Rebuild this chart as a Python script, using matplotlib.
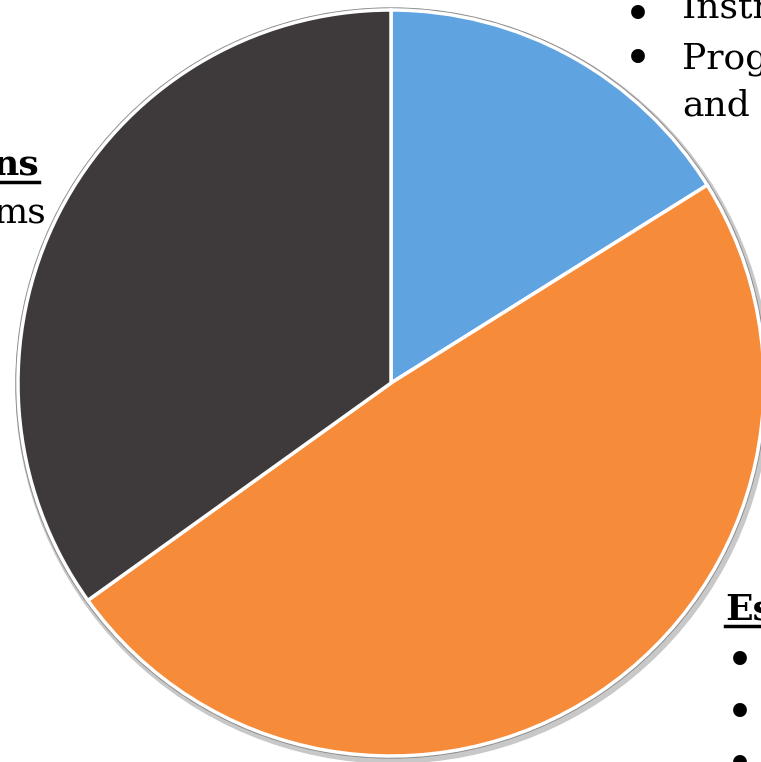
import matplotlib
matplotlib.use("Agg")
import matplotlib.pyplot as plt
from matplotlib.patches import Circle

W, H = 761, 762

shares = [16.1, 49.0, 34.9]
colors = ["#5FA3E0", "#F68B3A", "#3E3A3B"]

top_items = ["Instr", "Prog", "and"]
left_items = ["ns", "ms"]
right_head = "Es"

plt.rcParams["font.family"] = ["DejaVu Serif"]

fig = plt.figure(figsize=(W / 100, H / 100), dpi=100)
ax = fig.add_axes([0, 0, 1, 1])

cx, cy, r = 391, H - 383, 373

# grey rim / soft shadow behind the pie
ax.add_patch(Circle((cx + 2, cy - 3), r + 4, color="#C8C8C8", zorder=0))
ax.add_patch(Circle((cx, cy), r + 2, color="#8E8E8E", zorder=1))

wedges, _ = ax.pie(shares, colors=colors, startangle=90, counterclock=False,
                   center=(cx, cy), radius=r, frame=True,
                   wedgeprops=dict(edgecolor="white", linewidth=2.5))
for w in wedges:
    w.set_zorder(2)
ax.set_xlim(0, W)
ax.set_ylim(0, H)
ax.set_aspect("equal")
ax.axis("off")

fs = 26
bfs = 34

def px(x, y):
    return x, H - y

# top right bullets
ax.text(*px(624, 16), "\u2022", fontsize=bfs, va="center", ha="left")
ax.text(*px(682, 17), top_items[0], fontsize=fs, va="baseline", ha="left")
ax.text(*px(624, 60), "\u2022", fontsize=bfs, va="center", ha="left")
ax.text(*px(682, 68), top_items[1], fontsize=fs, va="baseline", ha="left")
ax.text(*px(682, 115), top_items[2], fontsize=fs, va="baseline", ha="left")

# left heading and item
ax.text(*px(39, 176), left_items[0], fontsize=fs, fontweight="bold",
        va="baseline", ha="right")
ax.plot([0, 39], [H - 182, H - 182], color="black", lw=2.5)
ax.text(*px(46, 224), left_items[1], fontsize=fs, va="baseline", ha="right")

# bottom right heading and bullets
ax.text(*px(725, 619), right_head, fontsize=fs, fontweight="bold",
        va="baseline", ha="left")
ax.plot([725, W], [H - 626, H - 626], color="black", lw=2.5)
for yb in [662, 714, 766]:
    ax.text(*px(726, yb), "\u2022", fontsize=bfs, va="center", ha="left")

fig.savefig("out.png", dpi=100)
